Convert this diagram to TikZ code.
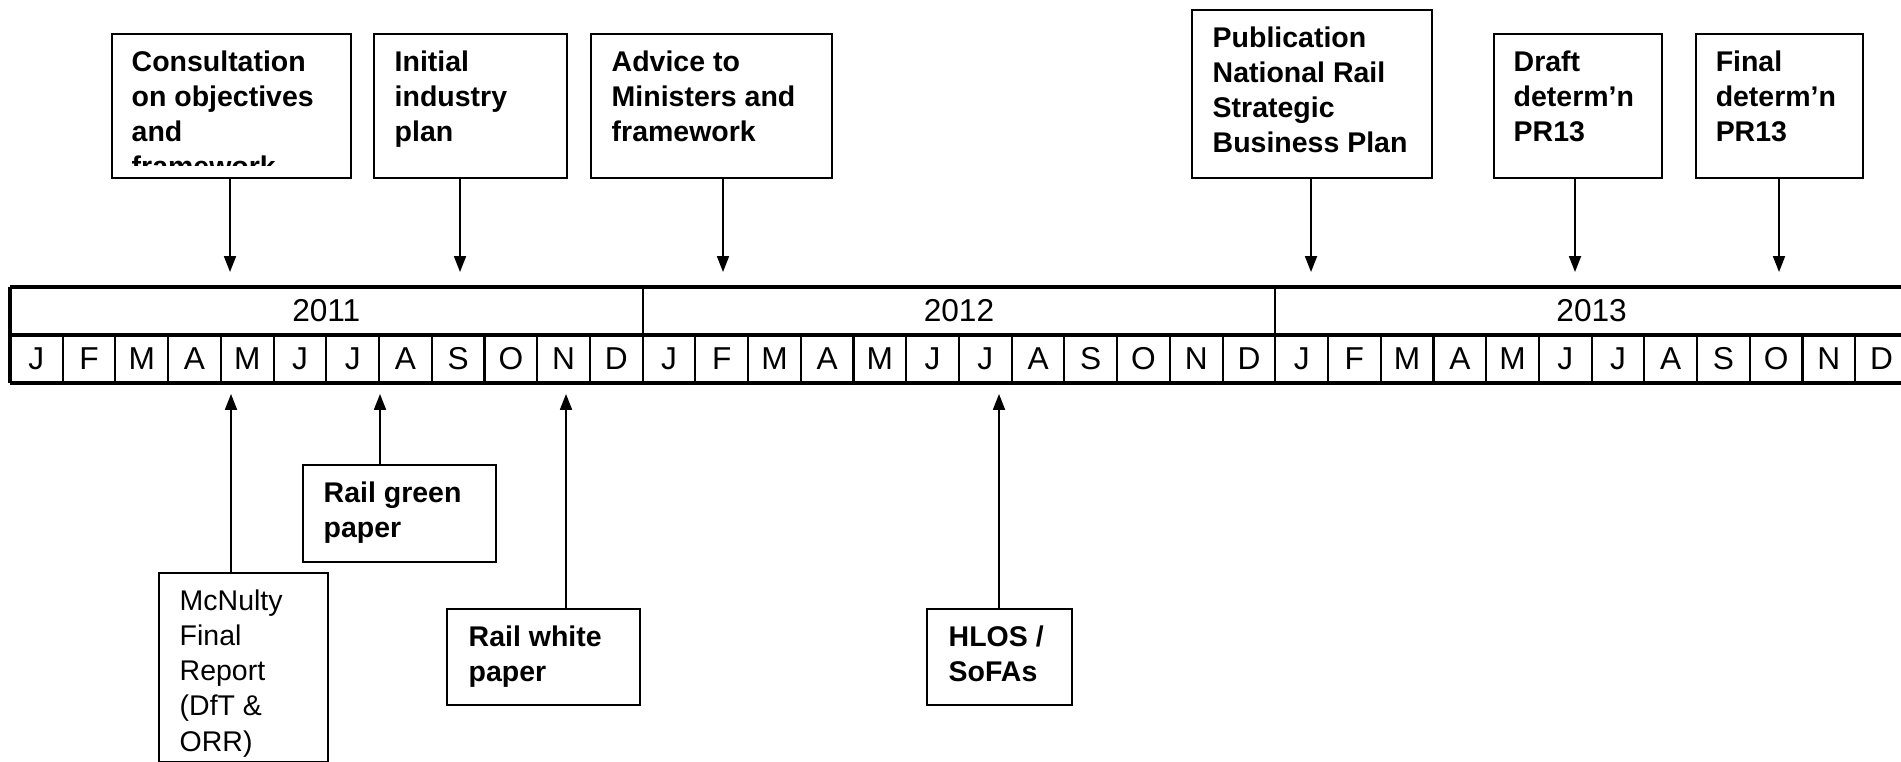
\documentclass[tikz,border=0pt]{standalone}
\usepackage{fontspec}
\setmainfont{Liberation Sans}
\usetikzlibrary{arrows.meta,positioning}

\begin{document}
\begin{tikzpicture}[x=0.01cm, y=-0.01cm, >={Triangle[length=4.5pt,width=3.4pt]},
    event/.style={rectangle, draw, line width=0.6pt, anchor=north west, inner sep=0pt},
    evtext/.style={align=left, inner sep=0pt, font=\fontsize{8.1}{10}\selectfont\bfseries},
    plaintext/.style={evtext, font=\fontsize{8.1}{10}\selectfont},
    link/.style={->, line width=0.5pt},
    cell/.style={font=\fontsize{9}{11}\selectfont, inner sep=0pt}]

    \clip (0,0) rectangle (1901,762);

    \node[event, minimum width=2.39cm, minimum height=1.44cm] (consult) at (111,33) {};
    \node[event, minimum width=1.93cm, minimum height=1.44cm] (init) at (373,33) {};
    \node[event, minimum width=2.41cm, minimum height=1.44cm] (advice) at (590,33) {};
    \node[event, minimum width=2.40cm, minimum height=1.68cm] (publ) at (1191,9) {};
    \node[event, minimum width=1.68cm, minimum height=1.44cm] (draft) at (1493,33) {};
    \node[event, minimum width=1.67cm, minimum height=1.44cm] (final) at (1695,33) {};

    \node[event, minimum width=1.69cm, minimum height=1.89cm] (mcnulty) at (158,572) {};
    \node[event, minimum width=1.93cm, minimum height=0.97cm] (green) at (302,464) {};
    \node[event, minimum width=1.93cm, minimum height=0.96cm] (white) at (446,608) {};
    \node[event, minimum width=1.45cm, minimum height=0.96cm] (hlos) at (926,608) {};

    \begin{scope}
        \clip (111,33) rectangle (350,166);
        \node[evtext, below right=0.17cm and 0.2cm of consult.north west] (consult-t) {Consultation\\on objectives\\and\\framework};
    \end{scope}
    \node[evtext, below right=0.17cm and 0.21cm of init.north west] (init-t) {Initial\\industry\\plan};
    \node[evtext, below right=0.17cm and 0.21cm of advice.north west] (advice-t) {Advice to\\Ministers and\\framework};
    \node[evtext, below right=0.17cm and 0.21cm of publ.north west] (publ-t) {Publication\\National Rail\\Strategic\\Business Plan};
    \node[evtext, below right=0.17cm and 0.2cm of draft.north west] (draft-t) {Draft\\determ’n\\PR13};
    \node[evtext, below right=0.17cm and 0.2cm of final.north west] (final-t) {Final\\determ’n\\PR13};

    \node[plaintext, below right=0.17cm and 0.21cm of mcnulty.north west] (mcnulty-t) {McNulty\\Final\\Report\\(DfT \&\\ORR)};
    \node[evtext, below right=0.17cm and 0.21cm of green.north west] (green-t) {Rail green\\paper};
    \node[evtext, below right=0.17cm and 0.22cm of white.north west] (white-t) {Rail white\\paper};
    \node[evtext, below right=0.17cm and 0.22cm of hlos.north west] (hlos-t) {HLOS /\\SoFAs};

    \draw[line width=0.9pt] (10,287) -- (1910,287) (10,335) -- (1910,335) (10,383) -- (1910,383) (10,287) -- (10,383);
    \foreach \i in {1,...,35}
        \draw[line width=0.6pt] ({10+52.72*\i},335) -- ({10+52.72*\i},383);
    \foreach \i in {1,2}
        \draw[line width=0.6pt] ({10+632.64*\i},287) -- ({10+632.64*\i},335);

    \foreach \yr [count=\k from 0] in {2011,2012,2013} {
        \node[cell] (y\yr) at ({10+632.64*(\k+0.5)},311) {\yr};
        \foreach \m [count=\j from 0] in {J,F,M,A,M,J,J,A,S,O,N,D}
            \node[cell] (m\yr-\j) at ({10+632.64*\k+52.72*(\j+0.5)},359) {\m};
    }

    \coordinate (consult-tip) at (230,272);
    \coordinate (init-tip) at (460,272);
    \coordinate (advice-tip) at (723,272);
    \coordinate (publ-tip) at (1311,272);
    \coordinate (draft-tip) at (1575,272);
    \coordinate (final-tip) at (1779,272);
    \coordinate (mcnulty-tip) at (231,394);
    \coordinate (green-tip) at (380,394);
    \coordinate (white-tip) at (566,394);
    \coordinate (hlos-tip) at (999,394);

    \foreach \n in {consult,init,advice,publ,draft,final}
        \draw[link] (\n.south -| \n-tip) -- (\n-tip);
    \foreach \n in {mcnulty,green,white,hlos}
        \draw[link] (\n.north -| \n-tip) -- (\n-tip);
\end{tikzpicture}
\end{document}
